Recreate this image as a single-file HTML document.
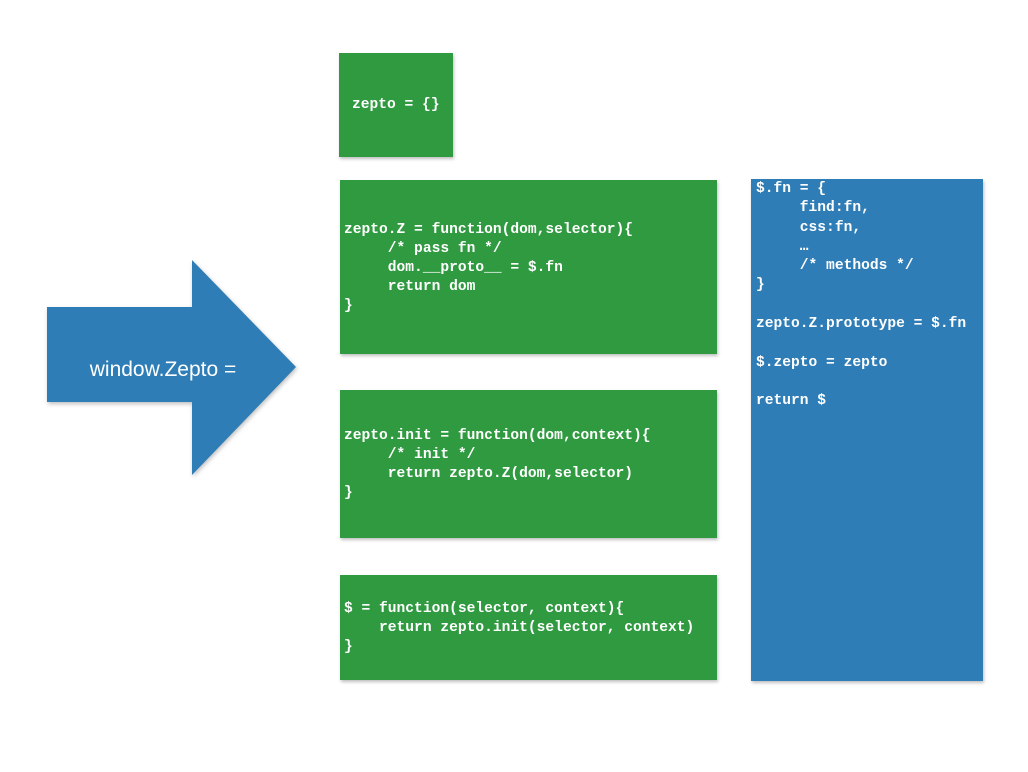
<!DOCTYPE html>
<html><head><style>
body{margin:0;width:1028px;height:772px;background:#fff;position:relative;overflow:hidden}
.b{position:absolute;box-shadow:1px 2px 3px rgba(0,0,0,.25)}
.g{background:#2f9a40}
.bl{background:#2e7db6}
pre{position:absolute;margin:0;font:bold 14.6px/19px "Liberation Mono",monospace;color:#fff;white-space:pre}
</style></head><body>
<div class="b g" style="left:339px;top:53px;width:114px;height:104px"></div>
<pre style="left:352px;top:96px">zepto = {}</pre>
<div class="b g" style="left:340px;top:180px;width:377px;height:174px"></div>
<pre style="left:344px;top:221px">zepto.Z = function(dom,selector){
     /* pass fn */
     dom.__proto__ = $.fn
     return dom
}</pre>
<div class="b g" style="left:340px;top:390px;width:377px;height:148px"></div>
<pre style="left:344px;top:427px">zepto.init = function(dom,context){
     /* init */
     return zepto.Z(dom,selector)
}</pre>
<div class="b g" style="left:340px;top:575px;width:377px;height:105px"></div>
<pre style="left:344px;top:600px">$ = function(selector, context){
    return zepto.init(selector, context)
}</pre>
<div class="b bl" style="left:751px;top:179px;width:232px;height:502px"></div>
<pre style="left:756px;top:180px;line-height:19.3px">$.fn = {
     find:fn,
     css:fn,
     …
     /* methods */
}

zepto.Z.prototype = $.fn

$.zepto = zepto

return $</pre>
<svg style="position:absolute;left:0;top:0" width="1028" height="772">
<polygon points="47,307 192,307 192,260 296,367 192,475 192,402 47,402" fill="#2e7db6" style="filter:drop-shadow(1px 2px 2px rgba(0,0,0,.25))"/>
<text x="163" y="376" text-anchor="middle" font-family="Liberation Sans,sans-serif" font-size="21" fill="#fff">window.Zepto =</text>
</svg>
</body></html>
